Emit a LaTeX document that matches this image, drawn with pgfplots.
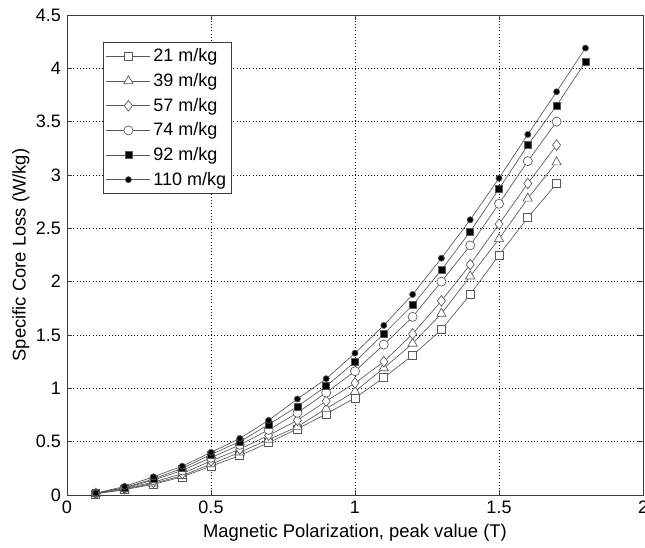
\documentclass[border=0pt]{standalone}
\usepackage{pgfplots}
\pgfplotsset{compat=1.18}
\usepackage{fontspec}
\setmainfont{Liberation Sans}
\definecolor{lgray}{RGB}{90,90,90}
\definecolor{axgray}{RGB}{60,60,60}
\begin{document}
\begin{tikzpicture}
\begin{axis}[
  scale only axis,
  width=432pt, height=360pt,
  xmin=0, xmax=2, ymin=0, ymax=4.5,
  xtick={0,0.5,1,1.5,2},
  ytick={0,0.5,1,1.5,2,2.5,3,3.5,4,4.5},
  tick pos=both, tick align=inside,
  major tick length=4pt,
  grid=major,
  major grid style={dotted, black, line width=0.5pt},
  axis line style={axgray, line width=0.6pt},
  tick style={axgray, line width=0.5pt},
  /pgf/number format/assume math mode=true,
  ticklabel style={font=\fontsize{13.5}{15}\selectfont},
  label style={font=\fontsize{13.8}{15}\selectfont},
  xticklabel style={yshift=-1pt},
  yticklabel style={xshift=-1pt},
  xlabel={Magnetic Polarization, peak value (T)},
  ylabel={Specific Core Loss (W/kg)},
  xlabel style={yshift=-1pt},
  ylabel style={yshift=-2pt},
  legend cell align=left,
  legend style={at={(0.0625,0.944)}, anchor=north west, draw=axgray, line width=0.6pt,
    font=\fontsize{13.5}{15}\selectfont, row sep=3.2pt, inner xsep=2pt, inner ysep=3pt},
  legend image code/.code={
    \draw[mark repeat=2, mark phase=2, #1] plot coordinates {(0pt,0pt) (16.5pt,0pt) (33pt,0pt)};
  },
  every axis plot/.append style={lgray, line width=0.5pt, mark options={black, solid, line width=0.5pt}},
]
\addplot[mark=square*, mark size=3pt, mark options={fill=white}] coordinates {
(0.1,0.01) (0.2,0.05) (0.3,0.10) (0.4,0.17) (0.5,0.27) (0.6,0.37) (0.7,0.49) (0.8,0.62) (0.9,0.76)
(1.0,0.91) (1.1,1.10) (1.2,1.31) (1.3,1.55) (1.4,1.88) (1.5,2.25) (1.6,2.60) (1.7,2.92)};
\addlegendentry{21 m/kg}
\addplot[mark=triangle*, mark size=4pt, mark options={fill=white}] coordinates {
(0.1,0.012) (0.2,0.055) (0.3,0.11) (0.4,0.18) (0.5,0.29) (0.6,0.40) (0.7,0.52) (0.8,0.64) (0.9,0.81)
(1.0,0.97) (1.1,1.19) (1.2,1.42) (1.3,1.70) (1.4,2.05) (1.5,2.40) (1.6,2.78) (1.7,3.12)};
\addlegendentry{39 m/kg}
\addplot[mark=diamond*, mark size=4pt, mark options={fill=white}] coordinates {
(0.1,0.013) (0.2,0.06) (0.3,0.12) (0.4,0.20) (0.5,0.32) (0.6,0.43) (0.7,0.56) (0.8,0.70) (0.9,0.88)
(1.0,1.05) (1.1,1.25) (1.2,1.51) (1.3,1.82) (1.4,2.16) (1.5,2.54) (1.6,2.92) (1.7,3.28)};
\addlegendentry{57 m/kg}
\addplot[mark=*, mark size=3.4pt, mark options={fill=white}] coordinates {
(0.1,0.015) (0.2,0.065) (0.3,0.14) (0.4,0.23) (0.5,0.35) (0.6,0.47) (0.7,0.61) (0.8,0.77) (0.9,0.96)
(1.0,1.16) (1.1,1.41) (1.2,1.67) (1.3,2.00) (1.4,2.34) (1.5,2.73) (1.6,3.13) (1.7,3.50)};
\addlegendentry{74 m/kg}
\addplot[mark=square*, mark size=2.6pt, mark options={fill=black}] coordinates {
(0.1,0.017) (0.2,0.07) (0.3,0.15) (0.4,0.25) (0.5,0.38) (0.6,0.50) (0.7,0.66) (0.8,0.83) (0.9,1.02)
(1.0,1.25) (1.1,1.51) (1.2,1.78) (1.3,2.11) (1.4,2.47) (1.5,2.87) (1.6,3.28) (1.7,3.65) (1.8,4.06)};
\addlegendentry{92 m/kg}
\addplot[mark=*, mark size=2.3pt, mark options={fill=black}] coordinates {
(0.1,0.018) (0.2,0.08) (0.3,0.17) (0.4,0.27) (0.5,0.40) (0.6,0.53) (0.7,0.70) (0.8,0.90) (0.9,1.09)
(1.0,1.33) (1.1,1.59) (1.2,1.88) (1.3,2.22) (1.4,2.58) (1.5,2.97) (1.6,3.38) (1.7,3.78) (1.8,4.19)};
\addlegendentry{110 m/kg}
\end{axis}
\pgfresetboundingbox
\useasboundingbox (-50.25pt,-39.75pt) rectangle (433.5pt,371.25pt);
\end{tikzpicture}
\end{document}
